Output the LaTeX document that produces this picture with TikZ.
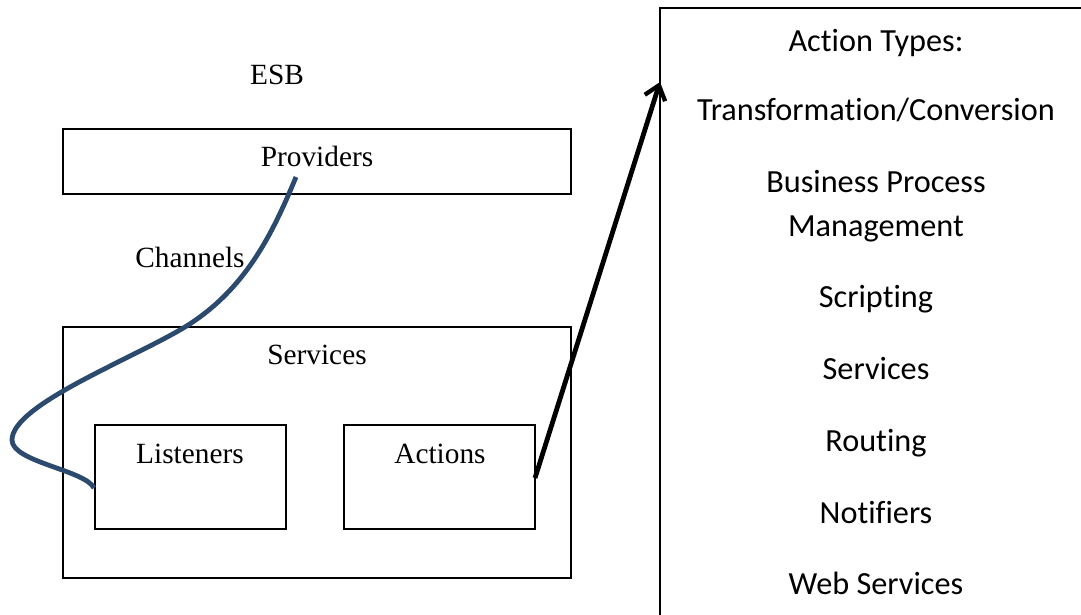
\documentclass[tikz,border=0pt]{standalone}
\usepackage{fontspec}
\setmainfont{Liberation Serif}
\newfontfamily\calfont[Ligatures=NoCommon]{Carlito}
\usetikzlibrary{arrows.meta}
\definecolor{chancol}{RGB}{44,74,110}
\tikzset{
  boxline/.style={draw=black, line width=0.8pt},
  sertext/.style={font=\fontsize{22}{26}\selectfont, anchor=base, inner sep=0pt},
  caltext/.style={font=\calfont\fontsize{24.2}{28}\selectfont, anchor=base, inner sep=0pt},
  chanline/.style={draw=chancol, line width=3.6pt, line cap=butt},
  bigarrow/.style={draw=black, line width=3.6pt, -{Straight Barb[length=10pt,width=16pt,line width=3.2pt]}}
}
\begin{document}
\begin{tikzpicture}[x=0.75pt,y=-0.75pt]
\useasboundingbox (0,0) rectangle (1081,614);
\clip (0,0) rectangle (1081,614);
% boxes
\draw[boxline] (63,129) rectangle (571,194);
\coordinate (prov) at (296,177);
\draw[boxline] (63,327) rectangle (571,578);
\draw[boxline] (95,425) rectangle (286,529);
\coordinate (listW) at (94,488);
\draw[boxline] (344,425) rectangle (535,529);
\coordinate (actE) at (535,478);
\draw[boxline] (660,8) rectangle (1100,640);
\coordinate (typW) at (660,82);
% texts
\node[sertext] (esb) at (277,84) {ESB};
\node[sertext] (providers) at (317,166) {Providers};
\node[sertext] (channels) at (190,267) {Channels};
\node[sertext] (services) at (317,364) {Services};
\node[sertext] (listeners) at (190,463) {Listeners};
\node[sertext] (actions) at (440,463) {Actions};
\node[caltext] (t0) at (876,51) {Action Types:};
\node[caltext] (t1) at (876,120) {Transformation/Conversion};
\node[caltext] (t2) at (876,192) {Business Process};
\node[caltext] (t3) at (876,236) {Management};
\node[caltext] (t4) at (876,307) {Scripting};
\node[caltext] (t5) at (876,379) {Services};
\node[caltext] (t6) at (876,451) {Routing};
\node[caltext] (t7) at (876,523) {Notifiers};
\node[caltext] (t8) at (876,594) {Web Services};
% connectors
\draw[chanline] (prov) .. controls (272,235) and (245,290) .. (185,327)
   .. controls (130,360) and (12,405) .. (12,440)
   .. controls (12,462) and (85,470) .. (listW);
\draw[bigarrow] (actE) -- (typW);
\end{tikzpicture}
\end{document}
